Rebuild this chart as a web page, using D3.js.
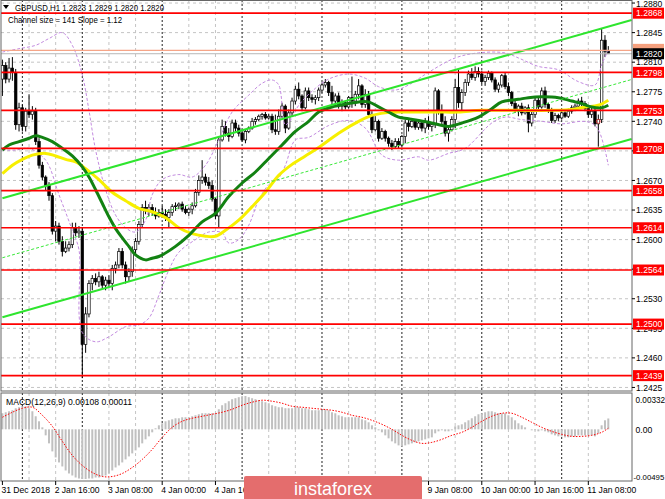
<!DOCTYPE html>
<html><head><meta charset="utf-8">
<script src="https://cdn.jsdelivr.net/npm/d3@7"></script>
<style>
body{margin:0;background:#fff}
svg{display:block}
text{font-family:"Liberation Sans",Arial,sans-serif}
</style>
</head><body>
<svg id="c" width="665" height="499"></svg>
<script>
// ---------- DATA ----------
const open=[1.2790,1.2806,1.2790,1.2803,1.2798,1.2736,1.2756,1.2734,1.2752,1.2748,1.2752,1.2716,1.2688,1.2674,1.2664,1.2652,1.2610,1.2616,1.2598,1.2586,1.2590,1.2594,1.2614,1.2608,1.2610,1.2476,1.2512,1.2548,1.2554,1.2550,1.2556,1.2546,1.2552,1.2548,1.2566,1.2570,1.2586,1.2570,1.2556,1.2562,1.2588,1.2598,1.2618,1.2638,1.2634,1.2638,1.2632,1.2628,1.2632,1.2630,1.2626,1.2632,1.2639,1.2640,1.2642,1.2636,1.2632,1.2636,1.2640,1.2656,1.2670,1.2674,1.2668,1.2664,1.2648,1.2628,1.2718,1.2734,1.2726,1.2722,1.2738,1.2732,1.2726,1.2718,1.2728,1.2732,1.2740,1.2742,1.2746,1.2748,1.2744,1.2746,1.2730,1.2728,1.2746,1.2758,1.2732,1.2750,1.2764,1.2778,1.2770,1.2756,1.2776,1.2768,1.2766,1.2768,1.2777,1.2783,1.2786,1.2774,1.2764,1.2770,1.2758,1.2762,1.2757,1.2768,1.2764,1.2772,1.2782,1.2760,1.2772,1.2748,1.2730,1.2740,1.2720,1.2728,1.2720,1.2714,1.2710,1.2716,1.2712,1.2722,1.2738,1.2734,1.2740,1.2733,1.2738,1.2732,1.2740,1.2734,1.2736,1.2776,1.2752,1.2740,1.2726,1.2730,1.2742,1.2780,1.2762,1.2774,1.2786,1.2796,1.2792,1.2799,1.2796,1.2787,1.2792,1.2797,1.2789,1.2778,1.2783,1.2794,1.2781,1.2774,1.2761,1.2754,1.2758,1.2750,1.2756,1.2738,1.2748,1.2765,1.2757,1.2776,1.2760,1.2753,1.2741,1.2747,1.2744,1.2750,1.2746,1.2752,1.2756,1.2758,1.2764,1.2761,1.2755,1.2748,1.2752,1.2737,1.2742,1.2836,1.2823];
const high=[1.2813,1.2810,1.2815,1.2816,1.2802,1.2762,1.2760,1.2756,1.2772,1.2758,1.2756,1.2720,1.2692,1.2676,1.2668,1.2655,1.2622,1.2620,1.2604,1.2598,1.2598,1.2620,1.2620,1.2616,1.2614,1.2520,1.2552,1.2558,1.2560,1.2562,1.2558,1.2556,1.2558,1.2570,1.2574,1.2590,1.2590,1.2574,1.2566,1.2592,1.2602,1.2622,1.2642,1.2646,1.2642,1.2642,1.2638,1.2636,1.2640,1.2636,1.2636,1.2642,1.2644,1.2644,1.2645,1.2640,1.2638,1.2644,1.2660,1.2676,1.2694,1.2678,1.2674,1.2670,1.2650,1.2722,1.2742,1.2740,1.2732,1.2742,1.2742,1.2736,1.2730,1.2730,1.2734,1.2744,1.2745,1.2748,1.2750,1.2751,1.2749,1.2749,1.2748,1.2754,1.2762,1.2760,1.2754,1.2768,1.2782,1.2786,1.2772,1.2780,1.2780,1.2772,1.2771,1.2780,1.2786,1.2790,1.2788,1.2782,1.2773,1.2774,1.2766,1.2764,1.2770,1.2793,1.2776,1.2790,1.2784,1.2778,1.2776,1.2752,1.2746,1.2742,1.2732,1.2730,1.2722,1.2718,1.2720,1.2720,1.2724,1.2742,1.2742,1.2744,1.2742,1.2742,1.2740,1.2744,1.2746,1.2738,1.2780,1.2778,1.2760,1.2746,1.2734,1.2746,1.2790,1.2802,1.2778,1.2790,1.2800,1.2803,1.2805,1.2804,1.2800,1.2795,1.2800,1.2799,1.2792,1.2786,1.2796,1.2798,1.2786,1.2776,1.2765,1.2760,1.2762,1.2758,1.2760,1.2752,1.2768,1.2768,1.2780,1.2781,1.2762,1.2756,1.2750,1.2749,1.2752,1.2752,1.2755,1.2759,1.2761,1.2767,1.2769,1.2764,1.2758,1.2756,1.2756,1.2748,1.2850,1.2842,1.2829];
const low=[1.2770,1.2785,1.2786,1.2788,1.2730,1.2728,1.2728,1.2728,1.2744,1.2742,1.2712,1.2684,1.2670,1.2658,1.2646,1.2606,1.2598,1.2594,1.2580,1.2584,1.2586,1.2590,1.2604,1.2602,1.2436,1.2466,1.2508,1.2540,1.2546,1.2544,1.2542,1.2540,1.2544,1.2540,1.2560,1.2566,1.2566,1.2548,1.2550,1.2556,1.2582,1.2594,1.2614,1.2630,1.2628,1.2628,1.2624,1.2626,1.2626,1.2622,1.2614,1.2628,1.2634,1.2636,1.2633,1.2630,1.2628,1.2630,1.2638,1.2652,1.2666,1.2664,1.2660,1.2645,1.2624,1.2614,1.2716,1.2722,1.2716,1.2720,1.2728,1.2722,1.2716,1.2714,1.2726,1.2730,1.2736,1.2740,1.2742,1.2742,1.2742,1.2726,1.2724,1.2724,1.2744,1.2726,1.2730,1.2746,1.2760,1.2766,1.2752,1.2754,1.2764,1.2762,1.2760,1.2764,1.2774,1.2780,1.2770,1.2760,1.2758,1.2755,1.2752,1.2754,1.2755,1.2756,1.2758,1.2766,1.2756,1.2756,1.2744,1.2726,1.2728,1.2716,1.2718,1.2716,1.2710,1.2706,1.2708,1.2708,1.2709,1.2714,1.2728,1.2732,1.2730,1.2730,1.2728,1.2726,1.2730,1.2728,1.2732,1.2748,1.2736,1.2722,1.2716,1.2728,1.2732,1.2756,1.2750,1.2770,1.2782,1.2789,1.2788,1.2792,1.2784,1.2782,1.2789,1.2786,1.2775,1.2774,1.2780,1.2778,1.2770,1.2758,1.2750,1.2746,1.2747,1.2748,1.2727,1.2734,1.2744,1.2754,1.2755,1.2756,1.2750,1.2738,1.2738,1.2740,1.2742,1.2744,1.2744,1.2749,1.2752,1.2755,1.2758,1.2752,1.2744,1.2744,1.2734,1.2710,1.2738,1.2816,1.2820];
const close=[1.2806,1.2790,1.2803,1.2798,1.2736,1.2756,1.2734,1.2752,1.2748,1.2752,1.2716,1.2688,1.2674,1.2664,1.2652,1.2610,1.2616,1.2598,1.2586,1.2590,1.2594,1.2614,1.2608,1.2610,1.2476,1.2512,1.2548,1.2554,1.2550,1.2556,1.2546,1.2552,1.2548,1.2566,1.2570,1.2586,1.2570,1.2556,1.2562,1.2588,1.2598,1.2618,1.2638,1.2634,1.2638,1.2632,1.2628,1.2632,1.2630,1.2626,1.2632,1.2639,1.2640,1.2642,1.2636,1.2632,1.2636,1.2640,1.2656,1.2670,1.2674,1.2668,1.2664,1.2648,1.2628,1.2718,1.2734,1.2726,1.2722,1.2738,1.2732,1.2726,1.2718,1.2728,1.2732,1.2740,1.2742,1.2746,1.2748,1.2744,1.2746,1.2730,1.2728,1.2746,1.2758,1.2732,1.2750,1.2764,1.2778,1.2770,1.2756,1.2776,1.2768,1.2766,1.2768,1.2777,1.2783,1.2786,1.2774,1.2764,1.2770,1.2758,1.2762,1.2757,1.2768,1.2764,1.2772,1.2782,1.2760,1.2772,1.2748,1.2730,1.2740,1.2720,1.2728,1.2720,1.2714,1.2710,1.2716,1.2712,1.2722,1.2738,1.2734,1.2740,1.2733,1.2738,1.2732,1.2740,1.2734,1.2736,1.2776,1.2752,1.2740,1.2726,1.2730,1.2742,1.2780,1.2762,1.2774,1.2786,1.2796,1.2792,1.2799,1.2796,1.2787,1.2792,1.2797,1.2789,1.2778,1.2783,1.2794,1.2781,1.2774,1.2761,1.2754,1.2758,1.2750,1.2756,1.2738,1.2748,1.2765,1.2757,1.2776,1.2760,1.2753,1.2741,1.2747,1.2744,1.2750,1.2746,1.2752,1.2756,1.2758,1.2764,1.2761,1.2755,1.2748,1.2752,1.2737,1.2742,1.2836,1.2823,1.2820];

const priceTicks=[1.2880,1.2845,1.2810,1.2775,1.2740,1.2705,1.2670,1.2635,1.2600,1.2565,1.2530,1.2495,1.2460,1.2425];
const levels=[1.2868,1.2798,1.2753,1.2708,1.2658,1.2614,1.2564,1.2500,1.2439];
const askPrice=1.2824, bidPrice=1.2820;
const timeLabelBars=[0,16,32,48,64,128,144,160,176];
const timeLabels=["31 Dec 2018","2 Jan 16:00","3 Jan 08:00","4 Jan 00:00","4 Jan 16:00","9 Jan 08:00","10 Jan 00:00","10 Jan 16:00","11 Jan 08:00"];
const daySeparators=[6,24,48,72,96,120,144,168];
const gridBars=[8,16,32,40,56,64,80,88,104,112,128,136,152,160,176];

const maGreenIdx=[0,2,5,8,10,12,15,18,21,24,26,28,30,32,34,36,38,40,43,45,47,52,56,60,64,68,72,76,80,84,88,92,95,99,104,107,110,113,116,119,122,128,134,138,143,147,150,155,158,162,167,171,174,177,180,182];
const maGreen=[1.2706,1.2712,1.2716,1.2720,1.2723,1.2721,1.2716,1.2708,1.2699,1.2686,1.2674,1.2659,1.2643,1.2627,1.2613,1.2602,1.2592,1.2582,1.2576,1.2578,1.2580,1.2592,1.2605,1.2621,1.2631,1.2651,1.2667,1.2680,1.2696,1.2712,1.2728,1.2740,1.2751,1.2757,1.2761,1.2763,1.2763,1.2757,1.2751,1.2745,1.2743,1.2739,1.2734,1.2738,1.2745,1.2755,1.2763,1.2766,1.2768,1.2769,1.2768,1.2764,1.2761,1.2757,1.2756,1.2759];
const maYellowIdx=[0,3,6,9,13,16,19,22,25,29,33,37,41,45,49,53,57,61,64,67,71,75,79,83,87,91,95,101,107,111,115,119,125,131,137,144,155,165,171,175,179,182];
const maYellow=[1.2678,1.2688,1.2695,1.2700,1.2702,1.2699,1.2695,1.2692,1.2684,1.2671,1.2656,1.2646,1.2637,1.2633,1.2626,1.2614,1.2607,1.2604,1.2604,1.2611,1.2623,1.2639,1.2656,1.2676,1.2689,1.2699,1.2709,1.2726,1.2740,1.2747,1.2750,1.2751,1.2751,1.2751,1.2751,1.2753,1.2753,1.2753,1.2754,1.2757,1.2759,1.2765];
const bandUpIdx=[0,5,10,14,18,21,24,26,28,31,34,37,40,43,45,48,53,57,61,65,69,74,78,81,83,85,87,89,94,98,104,109,113,118,122,128,136,143,151,155,161,167,173,178,180,182];
const bandUp=[1.2822,1.2826,1.2830,1.2838,1.2845,1.2830,1.2795,1.2753,1.2706,1.2659,1.2629,1.2614,1.2609,1.2623,1.2653,1.2671,1.2677,1.2674,1.2688,1.2718,1.2751,1.2771,1.2785,1.2789,1.2783,1.2736,1.2744,1.2759,1.2779,1.2790,1.2796,1.2791,1.2781,1.2777,1.2783,1.2798,1.2815,1.2821,1.2821,1.2815,1.2805,1.2801,1.2787,1.2783,1.2807,1.2824];
const bandLowIdx=[0,4,8,13,17,21,23,24,28,32,37,41,44,47,50,53,58,62,66,68,71,74,77,80,83,85,88,92,98,104,109,114,119,125,128,134,139,147,151,156,162,168,174,177,179,181,182];
const bandLow=[1.2706,1.2706,1.2708,1.2694,1.2653,1.2611,1.2588,1.2490,1.2479,1.2485,1.2497,1.2499,1.2507,1.2534,1.2564,1.2585,1.2600,1.2609,1.2608,1.2596,1.2600,1.2617,1.2647,1.2665,1.2673,1.2688,1.2718,1.2721,1.2735,1.2741,1.2732,1.2700,1.2694,1.2698,1.2694,1.2702,1.2708,1.2738,1.2745,1.2742,1.2740,1.2737,1.2740,1.2738,1.2730,1.2706,1.2688];

const channelIdx=[0,189];
const channelUpper=[1.2649,1.2860];
const channelMid=[1.25785,1.27895];
const channelLower=[1.2508,1.2719];
const markerIdx=179, markerPrice=1.2740;

const macd=[0.0016,0.0017,0.0018,0.0019,0.0021,0.0022,0.0023,0.0023,0.0021,0.0018,0.0013,0.0008,0.0002,-0.0006,-0.0014,-0.0022,-0.0028,-0.0033,-0.0037,-0.0041,-0.0044,-0.0046,-0.0048,-0.0049,-0.00495,-0.00495,-0.0049,-0.0049,-0.0048,-0.0048,-0.0047,-0.0046,-0.0044,-0.0041,-0.0038,-0.0036,-0.0033,-0.0030,-0.0027,-0.0024,-0.0021,-0.0018,-0.0014,-0.0010,-0.0007,-0.0003,0.0001,0.0004,0.0006,0.0008,0.0009,0.0010,0.0011,0.0011,0.0012,0.0012,0.0012,0.0013,0.0014,0.0015,0.0016,0.0016,0.0016,0.0016,0.0016,0.0020,0.0024,0.0026,0.0028,0.0030,0.0031,0.0032,0.0033,0.00332,0.0032,0.0031,0.0030,0.0029,0.0028,0.0027,0.0026,0.0024,0.0023,0.0022,0.0022,0.0021,0.0021,0.0021,0.0022,0.0022,0.0021,0.0021,0.0020,0.0019,0.0019,0.0019,0.0019,0.0020,0.0019,0.0017,0.0016,0.0014,0.0013,0.0012,0.0012,0.0012,0.0012,0.0012,0.0010,0.0009,0.0007,0.0004,0.0002,-0.0001,-0.0003,-0.0006,-0.0009,-0.0012,-0.0014,-0.0016,-0.0017,-0.0016,-0.0015,-0.0014,-0.0013,-0.0012,-0.0011,-0.0010,-0.0009,-0.0008,-0.0004,-0.0002,-0.0001,-0.0002,-0.0002,-0.0001,0.0003,0.0004,0.0005,0.0007,0.0009,0.0011,0.0013,0.0015,0.0016,0.0017,0.0018,0.0018,0.0017,0.0016,0.0016,0.0016,0.0014,0.0012,0.0009,0.0006,0.0004,0.0002,0.0000,-0.0001,-0.0001,-0.0002,-0.0001,-0.0002,-0.0003,-0.0005,-0.0006,-0.0007,-0.0007,-0.0008,-0.0008,-0.0007,-0.0007,-0.0006,-0.0006,-0.0006,-0.0006,-0.0006,-0.0007,-0.0004,0.0004,0.0009,0.00108];
const signalIdx=[0,3,6,9,12,15,18,21,24,27,30,33,36,39,42,45,48,51,54,57,60,63,66,69,72,75,78,81,84,87,90,93,96,99,102,105,108,111,114,117,120,123,126,129,132,135,138,141,144,147,150,153,156,159,162,165,168,171,174,177,180,182];
const signal=[0.0012,0.0017,0.0021,0.0022,0.0014,0.0003,-0.0012,-0.0026,-0.0036,-0.0043,-0.0047,-0.0047,-0.0044,-0.0038,-0.0030,-0.0020,-0.0008,0.0002,0.0008,0.0011,0.0013,0.0015,0.0017,0.0020,0.0024,0.0027,0.0029,0.0028,0.0026,0.0023,0.0022,0.0021,0.0020,0.0019,0.0017,0.0014,0.0012,0.0009,0.0005,0.0000,-0.0006,-0.0011,-0.0014,-0.0013,-0.0010,-0.0006,-0.0003,0.0002,0.0008,0.0013,0.0016,0.0016,0.0012,0.0007,0.0002,-0.0002,-0.0005,-0.0007,-0.0007,-0.0006,-0.0003,0.00011];
const macdTicks=[0.00332,0,-0.00495];
const macdTickText=["0.00332","0.00","-0.00495"];

// ---------- LAYOUT ----------
const svg=d3.select("#c");
const L=1,R=632,mT=0,mB=391,dT=393,dB=481;
const x=d3.scaleLinear().domain([0,182]).range([2.4,608.3]);
const y=d3.scaleLinear().domain([1.24208,1.28836]).range([mB,mT]);
const ym=d3.scaleLinear().domain([-0.00495,0.00332]).range([479,396]);

const defs=svg.append("defs");
defs.append("clipPath").attr("id","cm").append("rect").attr("x",L).attr("y",mT).attr("width",R-L).attr("height",mB-mT);
defs.append("clipPath").attr("id","cd").append("rect").attr("x",L).attr("y",dT).attr("width",R-L).attr("height",dB-dT);

const gm=svg.append("g").attr("clip-path","url(#cm)");
const gd=svg.append("g").attr("clip-path","url(#cd)");

// grid
gm.selectAll(".hg").data(priceTicks).enter().append("line")
 .attr("x1",L).attr("x2",R).attr("y1",d=>y(d)).attr("y2",d=>y(d))
 .attr("stroke","#c4c4c4").attr("stroke-dasharray","3,3").attr("stroke-width",1);
[gm,gd].forEach((g,k)=>{
  const t=k?dT:mT,b=k?dB:mB;
  g.selectAll(".vg").data(gridBars).enter().append("line")
   .attr("x1",d=>x(d)).attr("x2",d=>x(d)).attr("y1",t).attr("y2",b)
   .attr("stroke","#c4c4c4").attr("stroke-dasharray","3,3");
  g.selectAll(".vd").data(daySeparators).enter().append("line")
   .attr("x1",d=>x(d)).attr("x2",d=>x(d)).attr("y1",t).attr("y2",b)
   .attr("stroke","#222").attr("stroke-dasharray","2,2");
});

// candles
const idx=d3.range(open.length);
gm.selectAll(".wk").data(idx).enter().append("line")
 .attr("x1",i=>x(i)).attr("x2",i=>x(i)).attr("y1",i=>y(high[i])).attr("y2",i=>y(low[i]))
 .attr("stroke","#000").attr("stroke-width",1);
gm.selectAll(".bd").data(idx).enter().append("rect")
 .attr("x",i=>x(i)-1.25).attr("width",2.5)
 .attr("y",i=>y(Math.max(open[i],close[i])))
 .attr("height",i=>Math.max(0.8,Math.abs(y(open[i])-y(close[i]))))
 .attr("fill",i=>close[i]>=open[i]?"#fff":"#000")
 .attr("stroke","#000").attr("stroke-width",0.7);

// bollinger bands
const lineGen=(xs,vs,sc)=>d3.line().curve(d3.curveCatmullRom)(xs.map((i,k)=>[x(i),sc(vs[k])]));
[[bandUpIdx,bandUp],[bandLowIdx,bandLow]].forEach(([a,b])=>{
  gm.append("path").attr("d",lineGen(a,b,y)).attr("fill","none")
   .attr("stroke","#c38be0").attr("stroke-width",1).attr("stroke-dasharray","3,2");
});
// moving averages
gm.append("path").attr("d",lineGen(maYellowIdx,maYellow,y)).attr("fill","none")
 .attr("stroke","#f7ef00").attr("stroke-width",3);
gm.append("path").attr("d",lineGen(maGreenIdx,maGreen,y)).attr("fill","none")
 .attr("stroke","#128212").attr("stroke-width",3);

// channel
const segL=(vals)=>d3.line()(channelIdx.map((i,k)=>[x(i),y(vals[k])]));
gm.append("path").attr("d",segL(channelUpper)).attr("stroke","#2ee52e").attr("stroke-width",2).attr("fill","none");
gm.append("path").attr("d",segL(channelLower)).attr("stroke","#2ee52e").attr("stroke-width",2).attr("fill","none");
gm.append("path").attr("d",segL(channelMid)).attr("stroke","#3ae83a").attr("stroke-width",1).attr("stroke-dasharray","3,2").attr("fill","none");

// levels
gm.selectAll(".lv").data(levels).enter().append("line")
 .attr("x1",L).attr("x2",R).attr("y1",d=>y(d)).attr("y2",d=>y(d))
 .attr("stroke","#ff0000").attr("stroke-width",1.7);
// ask / bid
gm.append("line").attr("x1",L).attr("x2",R).attr("y1",y(askPrice)).attr("y2",y(askPrice)).attr("stroke","#f5a588").attr("stroke-width",1.2);
gm.append("line").attr("x1",L).attr("x2",R).attr("y1",y(bidPrice)).attr("y2",y(bidPrice)).attr("stroke","#b8b8b8").attr("stroke-width",1);
// marker
gm.append("circle").attr("cx",x(markerIdx)).attr("cy",y(markerPrice)).attr("r",2).attr("fill","none").attr("stroke","#ff4040").attr("stroke-width",0.8);

// MACD
gd.selectAll(".hb").data(idx).enter().append("rect")
 .attr("x",i=>x(i)-1).attr("width",2)
 .attr("y",i=>Math.min(ym(0),ym(macd[i]))).attr("height",i=>Math.abs(ym(macd[i])-ym(0)))
 .attr("fill","#c0c0c0");
gd.append("path").attr("d",lineGen(signalIdx,signal,ym)).attr("fill","none")
 .attr("stroke","#ff0000").attr("stroke-width",1).attr("stroke-dasharray","1.5,1.5");

// frames
svg.append("rect").attr("x",L).attr("y",mT+0.5).attr("width",R-L).attr("height",mB-mT-0.5).attr("fill","none").attr("stroke","#666").attr("stroke-width",1);
svg.append("rect").attr("x",L).attr("y",dT).attr("width",R-L).attr("height",dB-dT).attr("fill","none").attr("stroke","#666").attr("stroke-width",1);

// right axis labels
const fs=8.6;
const ax=svg.append("g");
ax.selectAll(".pt").data(priceTicks).enter().append("line")
 .attr("x1",R).attr("x2",R+3).attr("y1",d=>y(d)).attr("y2",d=>y(d)).attr("stroke","#000");
ax.selectAll(".ptt").data(priceTicks.filter(v=>Math.abs(v-1.2565)>1e-6)).enter().append("text")
 .attr("x",R+4).attr("y",d=>Math.max(7.2,y(d)+3.2)).attr("font-size",fs).attr("fill","#000").text(d=>d.toFixed(4));
levels.forEach(v=>{
  ax.append("rect").attr("x",R+1).attr("y",y(v)-5.5).attr("width",31).attr("height",11).attr("fill","#ff0000");
  ax.append("text").attr("x",R+4).attr("y",y(v)+3.2).attr("font-size",fs).attr("fill","#fff").text(v.toFixed(4));
});
ax.append("rect").attr("x",R+1).attr("y",y(askPrice)-6.5).attr("width",31).attr("height",11).attr("fill","#f5a07e");
ax.append("rect").attr("x",R+1).attr("y",y(bidPrice)-5.5).attr("width",31).attr("height",11).attr("fill","#000");
ax.append("text").attr("x",R+4).attr("y",y(bidPrice)+3.2).attr("font-size",fs).attr("fill","#fff").text(bidPrice.toFixed(4));

// macd axis
const macdLabelY=[403,433,480];
const macdLabelFs=[8.2,8.6,7.8];
ax.selectAll(".mt").data(macdTicks).enter().append("text")
 .attr("x",(d,k)=>k===2?633.5:R+3.5).attr("y",(d,k)=>macdLabelY[k]).attr("font-size",(d,k)=>macdLabelFs[k]).attr("fill","#000")
 .text((d,k)=>macdTickText[k]);

// time axis
ax.selectAll(".tt").data(timeLabelBars).enter().append("line")
 .attr("x1",d=>x(d)).attr("x2",d=>x(d)).attr("y1",dB).attr("y2",dB+4).attr("stroke","#000");
ax.selectAll(".tl").data(timeLabelBars).enter().append("text")
 .attr("x",d=>x(d)-1).attr("y",dB+12).attr("font-size",fs).attr("fill","#000").text((d,k)=>timeLabels[k]);

// header
svg.append("path").attr("d","M3,5 L9,5 L6,9 Z").attr("fill","#000");
svg.append("text").attr("x",15).attr("y",11).attr("font-size",fs).attr("fill","#000")
 .attr("textLength",149).attr("lengthAdjust","spacingAndGlyphs").text("GBPUSD,H1  1.2823 1.2829 1.2820 1.2820");
svg.append("text").attr("x",8).attr("y",23).attr("font-size",fs).attr("fill","#000")
 .attr("textLength",114).attr("lengthAdjust","spacingAndGlyphs").text("Channel size = 141 Slope = 1.12");
svg.append("text").attr("x",6).attr("y",405).attr("font-size",fs).attr("fill","#000").text("MACD(12,26,9) 0.00108 0.00011");

// logo
svg.append("rect").attr("x",244).attr("y",476).attr("width",178).attr("height",30).attr("rx",2).attr("fill","#e46d6d");
svg.append("text").attr("x",333).attr("y",495).attr("text-anchor","middle").attr("font-family","'Open Sans',sans-serif")
 .attr("font-size",18).attr("fill","#fff").text("instaforex");
</script>
</body></html>
